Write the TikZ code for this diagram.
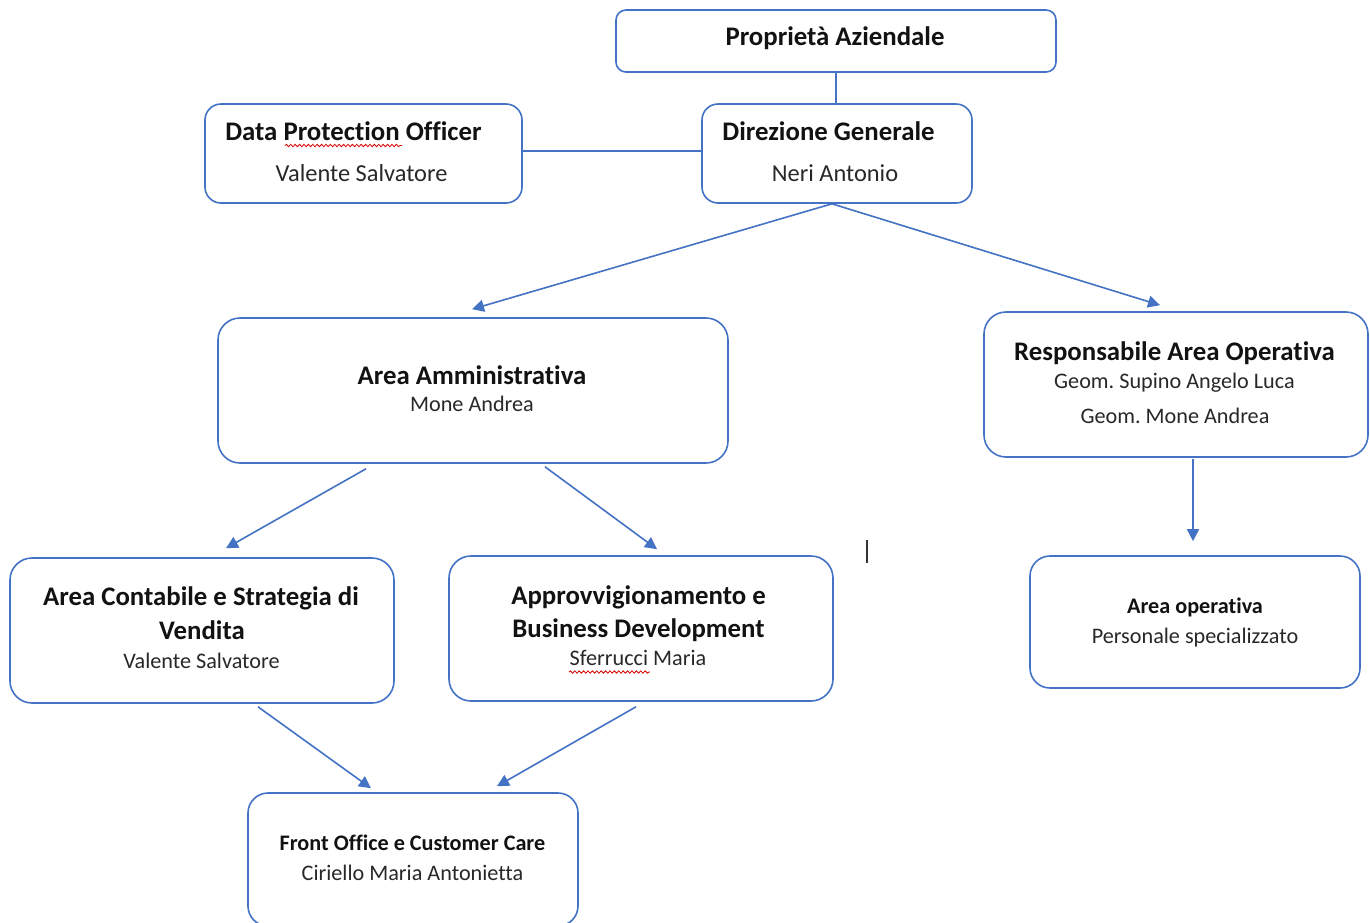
\documentclass[tikz,border=0pt]{standalone}
\usepackage{fontspec}
\setmainfont[Ligatures={NoCommon,NoRequired,NoContextual},RawFeature={-liga;-dlig;-clig}]{Carlito}
\usetikzlibrary{arrows.meta,calc,decorations.pathmorphing}
\definecolor{obl}{RGB}{68,114,196}
\definecolor{txt}{RGB}{18,18,18}
\definecolor{subt}{RGB}{40,40,40}
\frenchspacing
\begin{document}
\begin{tikzpicture}[x=0.5pt,y=-0.5pt,
  box/.style={draw=obl,line width=0.8pt,fill=white,inner sep=0pt,rounded corners=#1},
  tt/.style={anchor=base,inner sep=0pt,text=txt,font=\bfseries\fontsize{13.4}{16}\selectfont},
  ts/.style={anchor=base,inner sep=0pt,text=txt,font=\bfseries\fontsize{11.1}{13}\selectfont},
  sb/.style={anchor=base,inner sep=0pt,text=subt,font=\fontsize{12.2}{14}\selectfont},
  ss/.style={anchor=base,inner sep=0pt,text=subt,font=\fontsize{11.1}{13}\selectfont},
  ln/.style={draw=obl,line width=0.8pt},
  arr/.style={ln,-{Triangle[length=6pt,width=6pt]}},
  wavy/.style={draw=red!85!black,line width=0.4pt,decorate,decoration={snake,amplitude=0.6pt,segment length=2.2pt}}]
\path[use as bounding box,fill=white] (0,0) rectangle (1370,922);
\begin{scope}
\clip (0,0) rectangle (1370,922);
% boxes
\node[box=5pt,minimum width=220pt,minimum height=31pt] (prop) at (836,41) {};
\node[box=8pt,minimum width=158.5pt,minimum height=49.5pt] (dpo) at (363.5,153.5) {};
\node[box=8pt,minimum width=135pt,minimum height=49.5pt] (dir) at (837,153.5) {};
\node[box=11pt,minimum width=255pt,minimum height=72.5pt] (am) at (473,390.5) {};
\node[box=11pt,minimum width=192pt,minimum height=72.5pt] (rao) at (1176,384.5) {};
\node[box=10pt,minimum width=165pt,minimum height=66pt] (ao) at (1195,622) {};
\node[box=11pt,minimum width=192pt,minimum height=72.5pt] (acv) at (202,630.5) {};
\node[box=11pt,minimum width=192pt,minimum height=72.5pt] (abd) at (641,628.5) {};
\node[box=10pt,minimum width=165pt,minimum height=66.5pt] (foc) at (413,859.5) {};
% texts
\node[tt] (propT) at (835,45) {Proprietà Aziendale};
\node[tt] (dpoT) at (353.5,140) {Data Protection Officer};
\node[sb] (dpoS) at (361.5,181) {Valente Salvatore};
\node[tt] (dirT) at (828.5,140) {Direzione Generale};
\node[sb] (dirS) at (835,181) {Neri Antonio};
\node[tt] (amT) at (472,384) {Area Amministrativa};
\node[ss] (amS) at (472,411.5) {Mone Andrea};
\node[tt] (raoT) at (1174.5,360) {Responsabile Area Operativa};
\node[ss] (raoS1) at (1174.5,388.5) {Geom. Supino Angelo Luca};
\node[ss] (raoS2) at (1175,423.5) {Geom. Mone Andrea};
\node[ts] (aoT) at (1195,613.5) {Area operativa};
\node[ss] (aoS) at (1195,643.5) {Personale specializzato};
\node[tt] (acvT1) at (201,605) {Area Contabile e Strategia di};
\node[tt] (acvT2) at (202,639) {Vendita};
\node[ss] (acvS) at (201.5,668) {Valente Salvatore};
\node[tt] (abdT1) at (638.5,604) {Approvvigionamento e};
\node[tt] (abdT2) at (638.5,637.5) {Business Development};
\node[ss] (abdS) at (638,665.5) {Sferrucci Maria};
\node[ts] (focT) at (412.5,850) {Front Office e Customer Care};
\node[ss] (focS) at (412.5,880) {Ciriello Maria Antonietta};
% spell-check marks and caret
\draw[wavy] (285,145.5) -- (402,145.5);
\draw[wavy] (569,672) -- (650,672);
\draw[line width=1pt,black!80] (867,540) -- (867,563);
% connectors
\draw[ln] (prop.south) -- (prop.south |- dir.north);
\draw[ln] ($(dpo.east)+(0,-2.5)$) -- ($(dir.west)+(0,-2.5)$);
\draw[arr] ($(dir.south)+(-5,0)$) -- ($(am.north)+(-1,-8)$);
\draw[arr] ($(dir.south)+(-5,0)$) -- ($(rao.north)+(-16,-6)$);
\draw[arr] ($(am.south)+(-107,5)$) -- ($(acv.north)+(24,-9)$);
\draw[arr] ($(am.south)+(72,3)$) -- ($(abd.north)+(16,-6)$);
\draw[arr] ($(rao.south)+(17,1)$) -- ($(ao.north)+(-2,-14)$);
\draw[arr] ($(acv.south)+(56,3)$) -- ($(foc.north)+(-42,-4)$);
\draw[arr] ($(abd.south)+(-5,5)$) -- ($(foc.north)+(84,-6)$);
\end{scope}
\end{tikzpicture}
\end{document}
